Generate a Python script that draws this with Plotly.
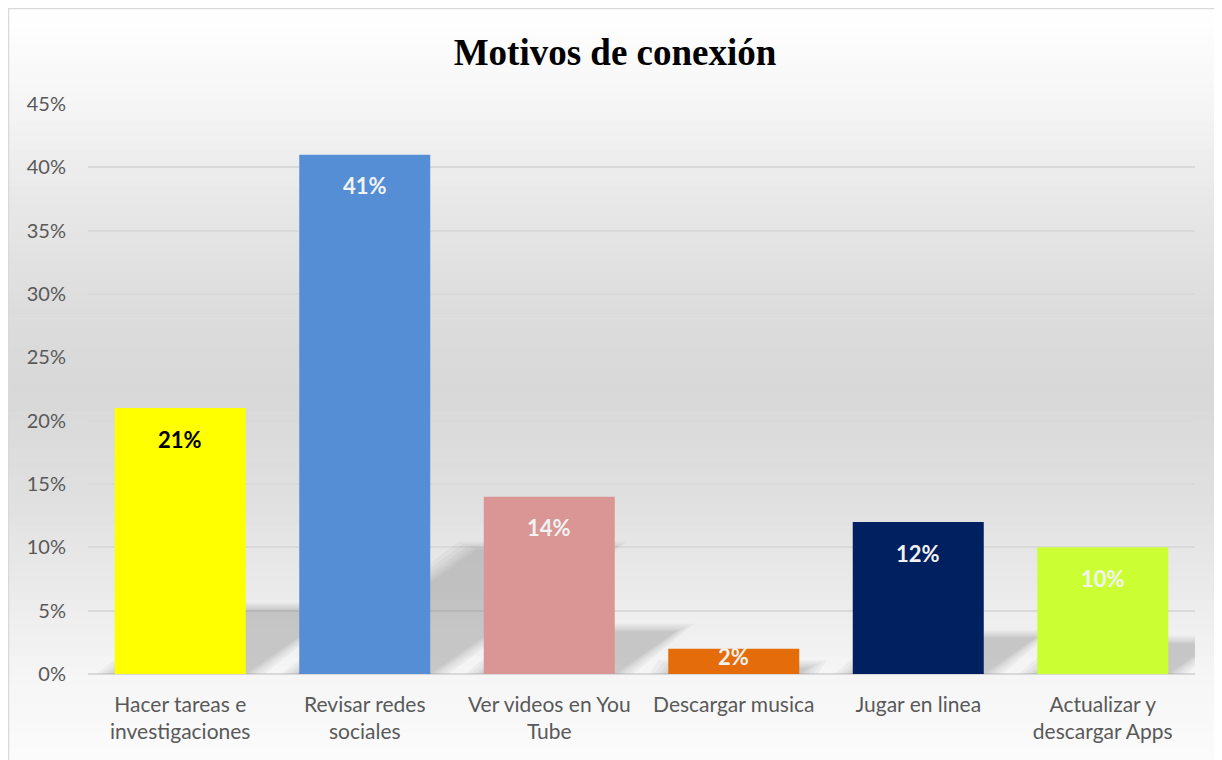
import plotly.graph_objects as go

# DATA
categorias = ["Hacer tareas e<br>investigaciones", "Revisar redes<br>sociales",
              "Ver videos en You<br>Tube", "Descargar musica", "Jugar en linea",
              "Actualizar y<br>descargar Apps"]
porcentajes = [0.21, 0.41, 0.14, 0.02, 0.12, 0.10]
etiquetas = ["21%", "41%", "14%", "2%", "12%", "10%"]
colores = ["#ffff00", "#558ed5", "#d99694", "#e46c0a", "#002060", "#ccff33"]
colores_texto = ["#000000", "#f2f2f2", "#f2f2f2", "#f2f2f2", "#f2f2f2", "#f2f2f2"]
ticks_y = [0, 0.05, 0.10, 0.15, 0.20, 0.25, 0.30, 0.35, 0.40, 0.45]

# page has an 8px body margin, so the figure starts at (8, 8)
W, H = 1214, 752
ML, MR, MT, MB = 80, 27, 96, 86
plot_w = W - ML - MR
plot_h = H - MT - MB
YMAX = 0.45
x_pos = list(range(len(categorias)))

fig = go.Figure()

fig.add_trace(go.Bar(
    x=x_pos, y=porcentajes,
    marker=dict(color=colores, line=dict(width=0)),
    width=0.71, hoverinfo="skip",
))

shapes = []


def px_to_py(ypx):
    return (H - MB - ypx) / plot_h


def px_to_px(xpx):
    return (xpx - ML) / plot_w


# background gradient (figure px y, grey level)
stops = [(0, 255), (92, 246), (192, 232), (292, 221), (382, 216),
         (492, 224), (592, 236), (672, 246), (752, 251)]
n = 80
for k in range(n):
    y0 = H * k / n
    y1 = H * (k + 1) / n
    ym = (y0 + y1) / 2
    for (a, ga), (b, gb) in zip(stops[:-1], stops[1:]):
        if a <= ym <= b:
            g = ga + (gb - ga) * (ym - a) / (b - a)
            break
    g = int(round(g))
    shapes.append(dict(type="rect", xref="paper", yref="paper", layer="below",
                       x0=px_to_px(1), x1=px_to_px(W + 5),
                       y0=px_to_py(y1 + 0.5), y1=px_to_py(y0),
                       fillcolor=f"rgb({g},{g},{g})", line=dict(width=0)))

# frame
shapes.append(dict(type="rect", xref="paper", yref="paper", layer="below",
                   x0=px_to_px(0.5), x1=px_to_px(W + 10), y0=px_to_py(H + 10), y1=px_to_py(0.5),
                   fillcolor="rgba(0,0,0,0)", line=dict(color="#d9d9d9", width=1.5)))

# soft perspective shadows behind the bars
cat_px = plot_w / len(categorias)
for i, v in enumerate(porcentajes):
    hs = 0.24 * v
    hs_px = hs * plot_h / YMAX
    d = hs_px / 0.7 / cat_px
    xl, xr = i - 0.355, i + 0.355
    for grow in [0.10, 0.075, 0.05, 0.03, 0.015, 0.0]:
        g = grow
        gy = g * 0.06
        path = (f"M {xl - g},0 L {xr + g},0 L {xr + d + g},{hs + gy} "
                f"L {xl + d - g},{hs + gy} Z")
        shapes.append(dict(type="path", xref="x", yref="y", layer="between",
                           path=path, fillcolor="rgba(120,120,120,0.065)",
                           line=dict(width=0)))

annotations = []
for i, (v, t, c) in enumerate(zip(porcentajes, etiquetas, colores_texto)):
    shift = -31 if v >= 0.05 else -8
    annotations.append(dict(x=i, y=v, text=f"<b>{t}</b>", showarrow=False,
                            yshift=shift, xref="x", yref="y",
                            font=dict(family="Lato, sans-serif", size=22, color=c)))

fig.update_layout(
    width=W, height=H,
    margin=dict(l=ML, r=MR, t=MT, b=MB),
    paper_bgcolor="white",
    plot_bgcolor="rgba(0,0,0,0)",
    showlegend=False,
    shapes=shapes,
    annotations=annotations,
    bargap=0.29,
    title=dict(text="<b>Motivos de conexión</b>", x=607 / W, xanchor="center",
               y=1 - 44 / H, yanchor="middle",
               font=dict(family="Liberation Serif, serif", size=37, color="#000000")),
    font=dict(family="Lato, sans-serif", color="#595959"),
)

fig.update_xaxes(
    tickmode="array", tickvals=x_pos, ticktext=categorias,
    range=[-0.5, len(categorias) - 0.5],
    showgrid=False, zeroline=False, showline=False, ticks="",
    tickfont=dict(family="Lato, sans-serif", size=21, color="#595959"),
    ticklabelstandoff=16,
)
fig.update_yaxes(
    range=[0, YMAX], tickvals=ticks_y, tickformat=".0%",
    showgrid=True, gridcolor="#d9d9d9", gridwidth=1.5,
    zeroline=True, zerolinecolor="#d9d9d9", zerolinewidth=1.5,
    showline=False, ticks="",
    tickfont=dict(family="Lato, sans-serif", size=20, color="#595959"),
    ticklabelstandoff=21,
)

fig.write_html("out.html")
